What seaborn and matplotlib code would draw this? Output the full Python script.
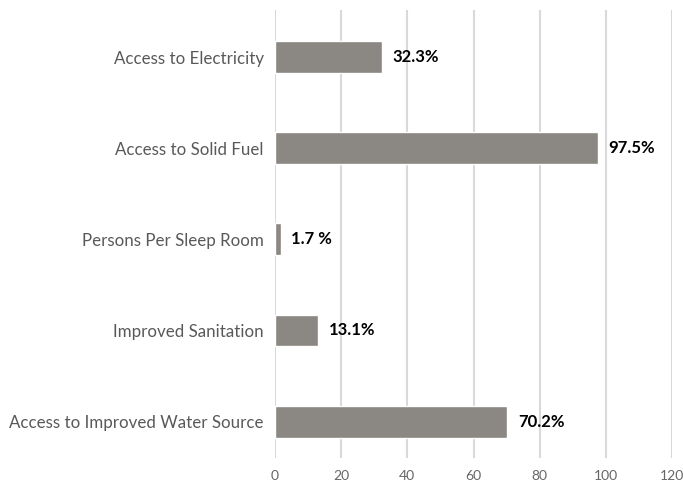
import matplotlib
matplotlib.use("Agg")
import matplotlib.pyplot as plt
import pandas as pd
import seaborn as sns

categories = ["Access to Electricity", "Access to Solid Fuel", "Persons Per Sleep Room",
              "Improved Sanitation", "Access to Improved Water Source"]
values = [32.3, 97.5, 1.7, 13.1, 70.2]
labels = ["32.3%", "97.5%", "1.7 %", "13.1%", "70.2%"]
xticks = [0, 20, 40, 60, 80, 100, 120]

df = pd.DataFrame({"category": categories, "value": values})

sns.set_style("white")
plt.rcParams["font.family"] = ["Lato", "DejaVu Sans"]

fig = plt.figure(figsize=(6.83, 4.93), dpi=100)
ax = fig.add_axes([0.4026, 0.071, 0.5814, 0.909])

sns.barplot(data=df, x="value", y="category", color="#8b8782", saturation=1,
            width=0.35, ax=ax, zorder=3)

# bold value labels just past each bar end
for i, (v, lab) in enumerate(zip(values, labels)):
    ax.text(v + 3.2, i, lab, va="center", ha="left", fontsize=12, fontweight="bold",
            color="black")

ax.set_xlim(0, 120)
ax.set_ylim(4.4, -0.52)
ax.set_xticks(xticks)
ax.grid(axis="x", color="#d9d9d9", linewidth=1.5, zorder=0)
ax.grid(axis="y", visible=False)
for s in ax.spines.values():
    s.set_visible(False)
ax.set_xlabel("")
ax.set_ylabel("")
ax.tick_params(axis="both", length=0)
ax.tick_params(axis="x", labelsize=10, labelcolor="#666666", pad=9)
ax.tick_params(axis="y", labelsize=12.2, labelcolor="#595959", pad=8)

fig.savefig("out.png", dpi=100)
